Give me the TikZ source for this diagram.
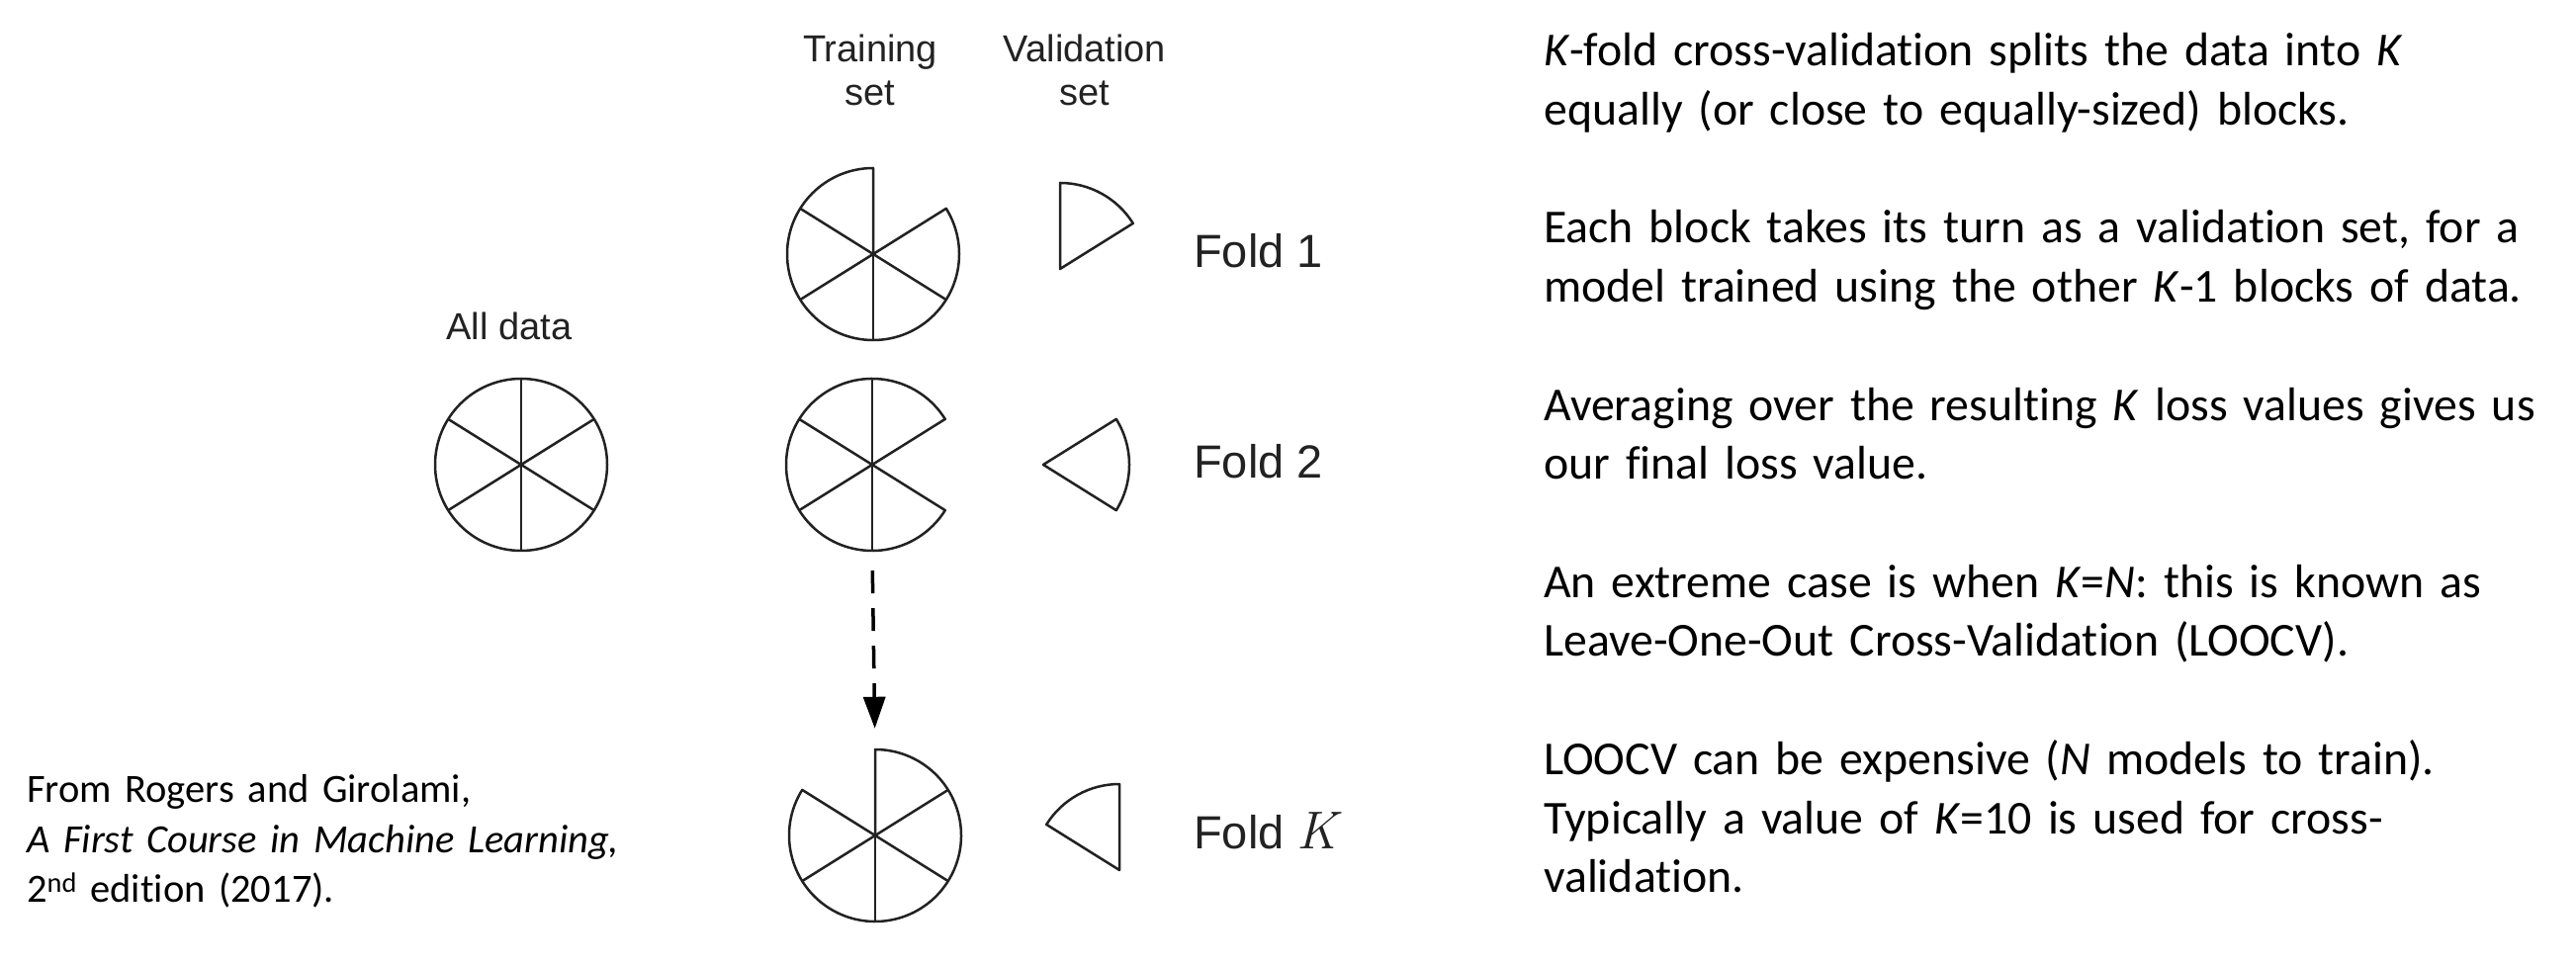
\documentclass[tikz,border=0pt]{standalone}
\usepackage{fontspec}
\setmainfont{Carlito}[Ligatures=NoCommon]
\newfontfamily\arialf{Liberation Sans}
\newfontfamily\lmr{Latin Modern Roman}
\usetikzlibrary{arrows.meta}
\definecolor{ink}{HTML}{222222}
\begin{document}
\begin{tikzpicture}[x=1pt,y=1pt,
  pie/.style={draw=ink, line width=2.5pt, line join=round},
  lab/.style={font=\arialf\fontsize{38}{44}\selectfont, text=ink, inner sep=0pt},
  foldlab/.style={font=\arialf\fontsize{47}{56}\selectfont, text=ink, inner sep=0pt, anchor=base west},
  para/.style={font=\fontsize{47.8}{59.7}\selectfont, inner sep=0pt, anchor=base west, text width=1040pt, align=left},
  cite/.style={font=\fontsize{40.5}{50}\selectfont, inner sep=0pt, anchor=base west, text width=700pt, align=left},
  hold/.style={circle, minimum size=174pt, inner sep=0pt},
  flow/.style={draw=black, line width=3.5pt, dash pattern=on 23pt off 15pt, -{Triangle[length=32pt,width=22pt]}}
]
\fill[white] (0,0) rectangle (2605,975);
\useasboundingbox (0,0) rectangle (2605,975);
\def\R{87pt}
% All data
\node[hold] (ad) at (527,505) {};
\draw[pie] (ad.center) circle[radius=\R];
\foreach \a in {32,90,148,212,270,328} \draw[pie] (ad.center) -- ++(\a:\R);
% Fold 1
\node[hold] (t1) at (883,718) {};
\draw[pie] (t1.center) -- ++(90:\R) arc[start angle=90, end angle=392, radius=\R] -- cycle;
\foreach \a in {148,212,270,328} \draw[pie] (t1.center) -- ++(\a:\R);
\coordinate (v1) at (1072,703);
\draw[pie] (v1) -- ++(90:\R) arc[start angle=90, end angle=32, radius=\R] -- cycle;
% Fold 2
\node[hold] (t2) at (882,505) {};
\draw[pie] (t2.center) -- ++(32:\R) arc[start angle=32, end angle=328, radius=\R] -- cycle;
\foreach \a in {90,148,212,270} \draw[pie] (t2.center) -- ++(\a:\R);
\coordinate (v2) at (1055,505);
\draw[pie] (v2) -- ++(-32:\R) arc[start angle=-32, end angle=32, radius=\R] -- cycle;
% Fold K
\node[hold] (tk) at (885,130) {};
\draw[pie] (tk.center) -- ++(148:\R) arc[start angle=148, end angle=450, radius=\R] -- cycle;
\foreach \a in {212,270,328,32} \draw[pie] (tk.center) -- ++(\a:\R);
\coordinate (vk) at (1132,95);
\draw[pie] (vk) -- ++(90:\R) arc[start angle=90, end angle=148, radius=\R] -- cycle;
% arrow
\draw[flow, shorten <=20pt, shorten >=21pt] (t2.south) -- (tk.north);
% labels
\node[lab, anchor=base, align=center, text width=200pt] (trn) at (880,912.3) {Training\\set};
\node[lab, anchor=base, align=center, text width=200pt] (val) at (1097,912.3) {Validation\\set};
\node[lab, anchor=base] (all) at (515,631.6) {All data};
\node[foldlab] (f1) at (1207,704.5) {Fold 1};
\node[foldlab] (f2) at (1207,491) {Fold 2};
\node[foldlab] (fk) at (1207,117) {Fold {\lmr\itshape\fontsize{54}{60}\selectfont K}};
% right text
\node[para] (p1) at (1561,908) {\textit{K}-fold cross-validation splits the data into \textit{K}\\equally (or close to equally-sized) blocks.};
\node[para] (p2) at (1561,729) {Each block takes its turn as a validation set, for a\\model trained using the other \textit{K}-1 blocks of data.};
\node[para] (p3) at (1561,549.8) {Averaging over the resulting \textit{K} loss values gives us\\our final loss value.};
\node[para] (p4) at (1561,370.7) {An extreme case is when \textit{K}=\textit{N}: this is known as\\Leave-One-Out Cross-Validation (LOOCV).};
\node[para] (p5) at (1561,191.6) {LOOCV can be expensive (\textit{N} models to train).\\Typically a value of \textit{K}=10 is used for cross-\\validation.};
% citation
\node[cite] (src) at (27,163) {From Rogers and Girolami,\\\textit{A First Course in Machine Learning,}\\2\textsuperscript{nd} edition (2017).};
\end{tikzpicture}
\end{document}
